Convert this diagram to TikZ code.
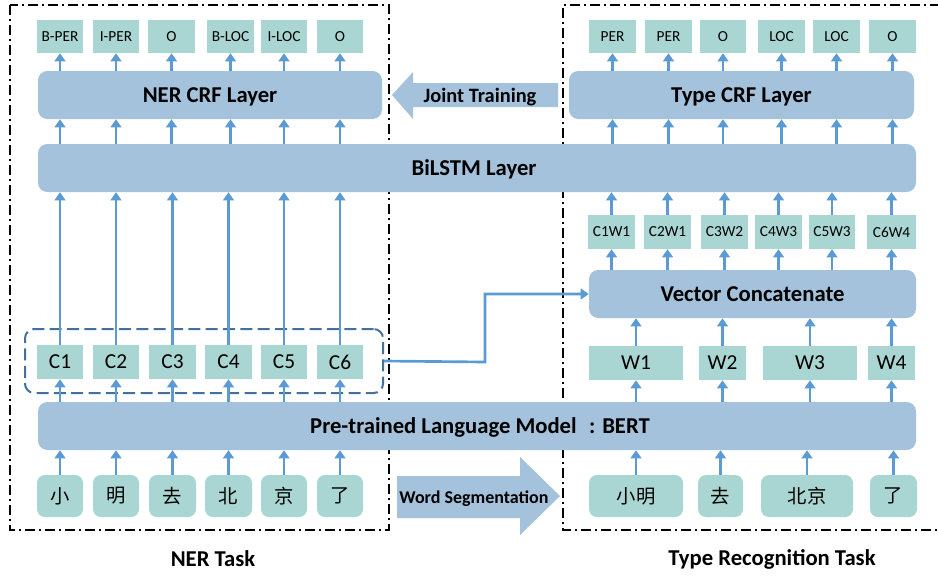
\documentclass[tikz,border=0pt]{standalone}
\usepackage{fontspec}
\setmainfont{Carlito}
\newfontfamily\cjk{Noto Sans CJK SC}
\usetikzlibrary{arrows.meta}
\definecolor{layerc}{HTML}{A4C2DB}
\definecolor{labc}{HTML}{A9D6D2}
\definecolor{arrc}{HTML}{5B9BD5}
\definecolor{dashc}{HTML}{41719C}
\newcommand\bx[7]{\node[#1, minimum width={(#5-#3)*0.75pt}, minimum height={(#6-#4)*0.75pt}] (#2) at ({(#3+#5)/2},{(#4+#6)/2}) {#7};}
\tikzset{
  layer/.style={fill=layerc, rounded corners=7pt, inner sep=0pt, text depth=0pt, font=\bfseries\fontsize{17}{20}\selectfont},
  lab/.style={fill=labc, inner sep=0pt, text depth=0pt, font=\fontsize{11.5}{13}\selectfont},
  cbox/.style={fill=labc, inner sep=0pt, text depth=0pt, font=\fontsize{16}{19}\selectfont},
  chbox/.style={fill=labc, rounded corners=6pt, inner sep=0pt, font=\cjk\fontsize{14.5}{17}\selectfont},
  arr/.style={draw=arrc, line width=2pt, -{Triangle[length=6pt,width=8pt]}},
  taskbox/.style={draw=black, line width=1.5pt, dash pattern=on 7.5pt off 3pt on 1.5pt off 3pt},
  groupbox/.style={draw=dashc, line width=1.5pt, dash pattern=on 9pt off 4pt, rounded corners=7pt, inner sep=0pt},
  bigarrow/.style={fill=layerc},
  arrtext/.style={font=\bfseries\fontsize{15.3}{18}\selectfont, inner sep=0pt, text depth=0pt},
  tasklabel/.style={font=\bfseries\fontsize{17}{20}\selectfont, inner sep=0pt},
}
\begin{document}
\begin{tikzpicture}[x=0.75pt,y=-0.75pt]
\useasboundingbox (0,0) rectangle (938,576);
% task frames
\draw[taskbox] (10,5) rectangle (389,530);
\draw[taskbox] (940,5) -- (563,5) -- (563,530) -- (940,530);
% layers
\bx{layer}{ncrf}{38}{71}{382}{119}{NER CRF Layer}
\bx{layer}{tcrf}{569}{71}{914}{119}{Type CRF Layer}
\bx{layer}{bil}{38}{144}{916}{192}{}
\node[layer, fill=none] at (474,168) (biltext) {BiLSTM Layer};
\bx{layer}{vc}{589}{270}{916}{318}{Vector Concatenate}
\bx{layer}{bert}{38}{402}{916}{450}{}
\node[layer, fill=none] at (480,426) (berttext) {Pre-trained Language Model\hspace{0.55em}: BERT};
% left top labels
\foreach \i/\a/\b/\t in {1/37/83/B-PER,2/93/139/I-PER,3/148/195/O,4/207/254/B-LOC,5/261/307/I-LOC,6/317/363/O}
  {\bx{lab}{l\i}{\a}{20}{\b}{53}{\t}}
% right top labels
\foreach \i/\a/\b/\t in {1/589/636/PER,2/645/692/PER,3/700/746/O,4/758/805/LOC,5/813/860/LOC,6/869/916/O}
  {\bx{lab}{r\i}{\a}{20}{\b}{53}{\t}}
% C boxes
\foreach \i/\a/\b in {1/37/83,2/93/139,3/149/196,4/205/252,5/261/307,6/317/363}
  {\bx{cbox}{c\i}{\a}{345}{\b}{379}{C\i}}
% left characters
\foreach \i/\a/\b/\t in {1/37/83/小,2/93/139/明,3/149/196/去,4/205/252/北,5/261/307/京,6/317/363/了}
  {\bx{chbox}{ch\i}{\a}{475}{\b}{517}{\t}}
% C-W boxes
\foreach \i/\a/\b/\t in {1/588/635/C1W1,2/644/691/C2W1,3/701/748/C3W2,4/755/802/C4W3,5/809/855/C5W3,6/867/916/C6W4}
  {\bx{lab}{cw\i}{\a}{215}{\b}{249}{\t}}
% W boxes
\foreach \i/\a/\b in {1/589/683,2/699/746,3/763/857,4/868/915}
  {\bx{cbox}{w\i}{\a}{346}{\b}{380}{W\i}}
% right words
\foreach \i/\a/\b/\t in {1/589/683/小明,2/698/743/去,3/761/853/北京,4/870/917/了}
  {\bx{chbox}{rw\i}{\a}{475}{\b}{517}{\t}}
% group box
\bx{groupbox}{grp}{25}{329}{383}{393}{}
% arrows left
\foreach \i in {1,...,6}{
  \draw[arr] (ch\i.north) -- (ch\i.north |- bert.south);
  \draw[arr] (c\i.north |- bert.north) -- (c\i.south);
  \draw[arr] (c\i.north) -- (c\i.north |- bil.south);
  \draw[arr] (l\i.south |- bil.north) -- (l\i.south |- ncrf.south);
  \draw[arr] (l\i.south |- ncrf.north) -- (l\i.south);
}
% arrows right
\foreach \i in {1,...,4}{
  \draw[arr] (rw\i.north) -- (rw\i.north |- bert.south);
  \draw[arr] (w\i.north |- bert.north) -- (w\i.south);
  \draw[arr] (w\i.north) -- (w\i.north |- vc.south);
}
\foreach \i in {1,...,6}{
  \draw[arr] (cw\i.south |- vc.north) -- (cw\i.south);
  \draw[arr] (cw\i.north) -- (cw\i.north |- bil.south);
  \draw[arr] (r\i.south |- bil.north) -- (r\i.south |- tcrf.south);
  \draw[arr] (r\i.south |- tcrf.north) -- (r\i.south);
}
% connector group -> vector concatenate
\coordinate (bend) at (485,362);
\draw[arr] (grp.east) -- (bend) |- (vc.west);
% Joint training arrow
\fill[bigarrow] (392,95) -- (413,72) -- (413,83) -- (558,83) -- (558,107) -- (413,107) -- (413,119) -- cycle;
\node[arrtext] at (480,95) (jt) {Joint Training};
% Word segmentation arrow
\fill[bigarrow] (397,476) -- (520,476) -- (520,457) -- (560,496) -- (520,535) -- (520,518) -- (397,518) -- cycle;
\node[arrtext, font=\bfseries\fontsize{13.5}{16}\selectfont] at (474,497) (ws) {Word Segmentation};
% task labels
\node[tasklabel] at (213,559) (nert) {NER Task};
\node[tasklabel] at (772,559) (trt) {Type Recognition Task};
\end{tikzpicture}
\end{document}
